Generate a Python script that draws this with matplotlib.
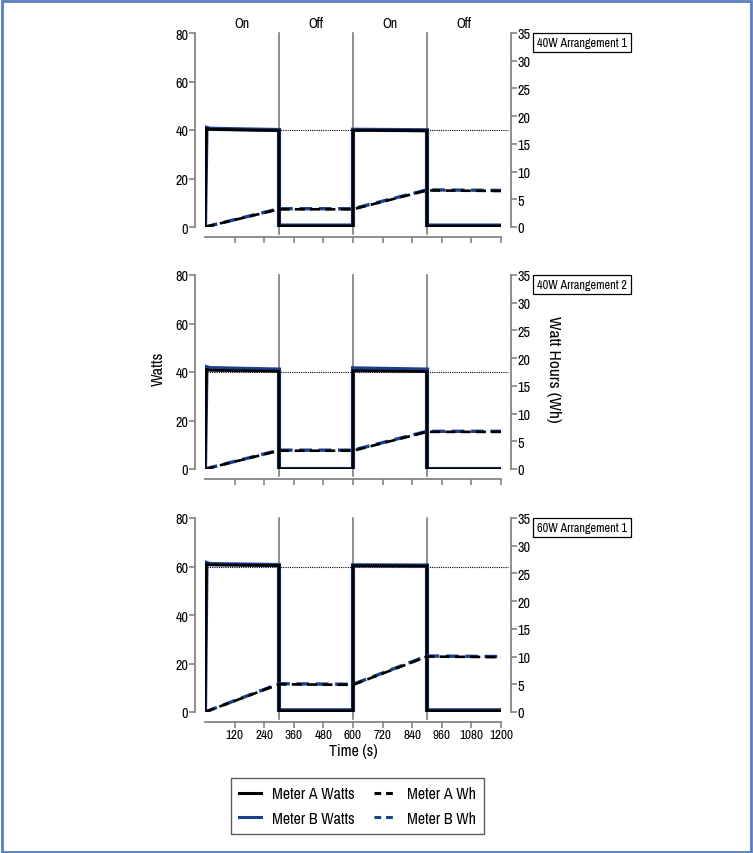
import matplotlib
matplotlib.use("Agg")
import matplotlib.pyplot as plt
from matplotlib import font_manager as fm
from matplotlib.lines import Line2D
from matplotlib.patches import Rectangle

# prefer a narrow sans if one is installed, else plain Liberation Sans a bit smaller
narrow = [f.name for f in fm.fontManager.ttflist if "Narrow" in f.name or "Condensed" in f.name]
if narrow:
    plt.rcParams["font.family"] = [narrow[0], "Liberation Sans", "DejaVu Sans"]
    k = 1.0
else:
    plt.rcParams["font.family"] = ["Liberation Sans", "DejaVu Sans"]
    k = 0.86

# ---- data ----
panel_names = ["40W Arrangement 1", "40W Arrangement 2", "60W Arrangement 1"]
ref_watts = [40, 40, 60]
phase_labels = ["On", "Off", "On", "Off"]
phase_mid = [150, 450, 750, 1050]
switch_times = [300, 600, 900]

t_watts = [0, 6, 20, 300, 300, 600, 600, 900, 900, 1200]
meter_a_watts = [
    [0, 40.6, 40.3, 39.8, 0.4, 0.4, 39.9, 39.7, 0.4, 0.4],
    [0, 41.0, 40.7, 40.3, 0.0, 0.0, 40.5, 40.2, 0.0, 0.0],
    [0, 61.0, 60.7, 60.4, 0.5, 0.5, 60.3, 60.2, 0.5, 0.5],
]
meter_b_watts = [
    [0, 40.9, 40.5, 40.0, 0.6, 0.6, 40.1, 39.9, 0.6, 0.6],
    [0, 42.0, 41.6, 41.0, 0.0, 0.0, 41.5, 41.0, 0.0, 0.0],
    [0, 61.5, 61.0, 60.6, 0.7, 0.7, 60.5, 60.4, 0.7, 0.7],
]

t_wh = [0, 300, 600, 900, 1200]
meter_a_wh = [
    [0, 3.2, 3.2, 6.6, 6.5],
    [0, 3.3, 3.3, 6.7, 6.7],
    [0, 5.0, 4.9, 10.0, 9.9],
]
meter_b_wh = [
    [0, 3.3, 3.3, 6.7, 6.6],
    [0, 3.4, 3.4, 6.8, 6.8],
    [0, 5.1, 5.0, 10.1, 10.0],
]

x_ticks = [120, 240, 360, 480, 600, 720, 840, 960, 1080, 1200]
watt_ticks = [0, 20, 40, 60, 80]
wh_ticks = [0, 5, 10, 15, 20, 25, 30, 35]

# ---- styling ----
W, H = 753, 854
blue = "#1c3f8c"
spine_c = "#7a7a7a"
dash = (3.8, 2.0)

fig = plt.figure(figsize=(W / 100, H / 100), dpi=100)

ax_left, ax_w = 205, 296
tops = [34, 276, 519]
ax_h = 194
off = 7  # spine offset in px

axes = []
for i in range(3):
    top = tops[i]
    ax = fig.add_axes([ax_left / W, 1 - (top + ax_h) / H, ax_w / W, ax_h / H])
    ax2 = ax.twinx()
    ax.set_xlim(0, 1200)
    ax.set_ylim(0, 80)
    ax2.set_ylim(0, 35)

    # watts
    ax.plot(t_watts, meter_b_watts[i], color=blue, lw=3.0, solid_joinstyle="miter", zorder=3)
    ax.plot(t_watts, meter_a_watts[i], color="black", lw=2.0, solid_joinstyle="miter", zorder=4)

    # watt hours
    ax2.plot(t_wh, meter_b_wh[i], color=blue, lw=2.4, dashes=dash, zorder=3)
    ax2.plot(t_wh, meter_a_wh[i], color="black", lw=1.9, dashes=dash, zorder=4)

    # reference line and switch lines
    ax.plot([0, 1200 * (1 + off / ax_w)], [ref_watts[i]] * 2, color="black", lw=0.8,
            ls=(0, (1, 1)), clip_on=False, zorder=1)
    for s in switch_times:
        ax.axvline(s, ymin=-off / ax_h, ymax=1, color="#6f6f6f", lw=1.1, clip_on=False, zorder=1)

    # spines
    for a in (ax, ax2):
        a.spines["top"].set_visible(False)
    ax.spines["right"].set_visible(False)
    ax2.spines["left"].set_visible(False)
    ax2.spines["bottom"].set_visible(False)
    ax.spines["left"].set_position(("outward", off))
    ax.spines["bottom"].set_position(("outward", off))
    ax2.spines["right"].set_position(("outward", off))
    for sp in (ax.spines["left"], ax.spines["bottom"], ax2.spines["right"]):
        sp.set_color(spine_c)
        sp.set_linewidth(1.2)

    ax.set_yticks(watt_ticks)
    ax2.set_yticks(wh_ticks)
    ax.set_xticks(x_ticks)
    ax.tick_params(axis="y", colors=spine_c, labelcolor="black", labelsize=10.2 * k,
                   length=4, width=1.1, pad=1)
    ax.tick_params(axis="x", colors=spine_c, labelcolor="black", labelsize=9.5 * k,
                   length=4, width=1.1, pad=1.5)
    ax2.tick_params(axis="y", colors=spine_c, labelcolor="black", labelsize=10.2 * k,
                    length=4, width=1.1, pad=1)
    if i < 2:
        ax.tick_params(axis="x", labelbottom=False)

    # panel name box
    fig.text(582 / W, 1 - (top + 9.5) / H, panel_names[i], ha="center", va="center",
             fontsize=8.8 * k, bbox=dict(boxstyle="square,pad=0.3", fc="white", ec="black", lw=0.9))
    axes.append(ax)

for lab, m in zip(phase_labels, phase_mid):
    axes[0].text(m, 1 + 10 / ax_h, lab, transform=axes[0].get_xaxis_transform(),
                 ha="center", va="center", fontsize=10 * k)

axes[2].set_xlabel("Time (s)", fontsize=11.5 * k, labelpad=2)

fig.text(158 / W, 1 - 369 / H, "Watts", rotation=90, ha="center", va="center", fontsize=11.8 * k)
fig.text(553 / W, 1 - 369 / H, "Watt Hours (Wh)", rotation=-90, ha="center", va="center",
         fontsize=12.5 * k)

handles = [
    Line2D([], [], color="black", lw=2.2),
    Line2D([], [], color=blue, lw=2.2),
    Line2D([], [], color="black", lw=2.2, dashes=(2.2, 1.6)),
    Line2D([], [], color=blue, lw=2.2, dashes=(2.2, 1.6)),
]
labels = ["Meter A Watts", "Meter B Watts", "Meter A Wh", "Meter B Wh"]
leg = fig.legend(handles, labels, loc="center", bbox_to_anchor=(357.5 / W, 1 - 807 / H),
                 ncol=2, fontsize=11.5 * k, frameon=True, fancybox=False, handlelength=1.4,
                 handletextpad=0.7, columnspacing=1.2, labelspacing=0.6, borderpad=0.5)
leg.get_frame().set_edgecolor("#333333")
leg.get_frame().set_linewidth(1.0)

fig.patches.append(Rectangle((1.5 / W, 1.5 / H), 749.5 / W, 850.5 / H, transform=fig.transFigure,
                             fill=False, ec="#5b7ec0", lw=2.0))

fig.savefig("out.png", dpi=100)
